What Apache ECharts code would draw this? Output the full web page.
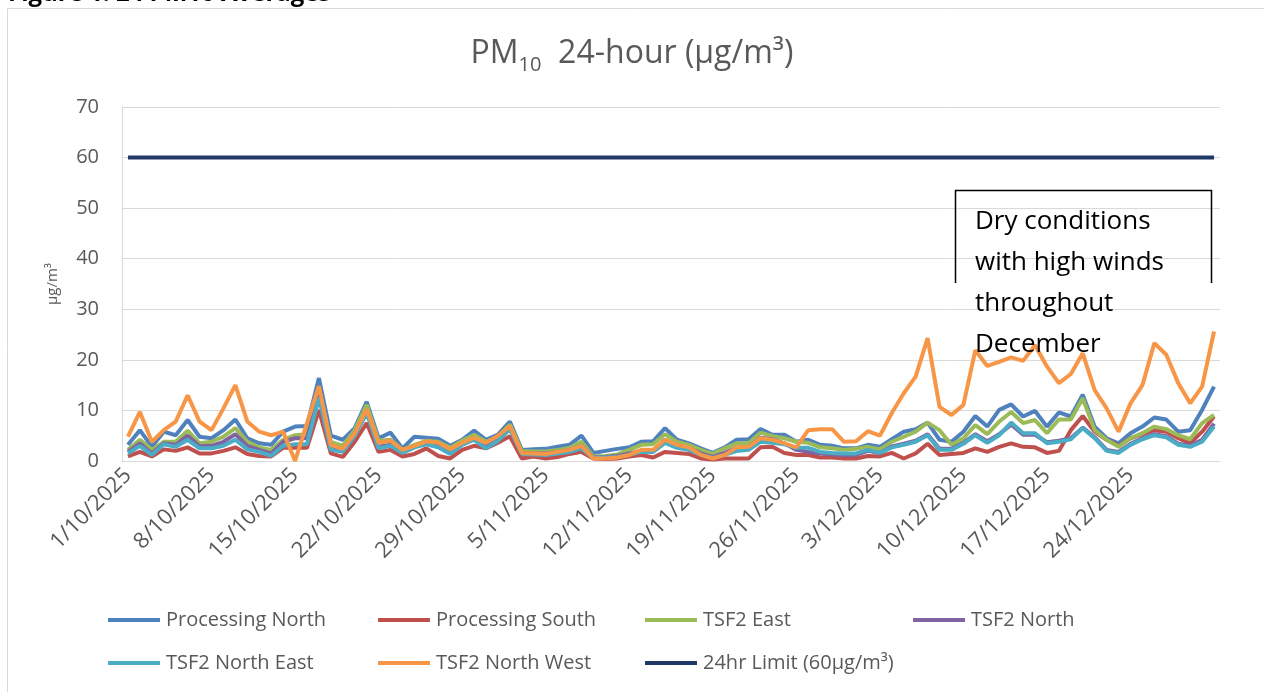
<!DOCTYPE html>
<html>
<head>
<meta charset="utf-8">
<title>PM10 24-hour</title>
<script src="https://cdn.jsdelivr.net/npm/echarts@6/dist/echarts.min.js"></script>
<style>
  html, body { margin: 0; padding: 0; background: #fff; }
  #main { width: 1264px; height: 692px; }
</style>
</head>
<body>
<div id="main"></div>
<script>
// daily dates 1/10/2025 .. 31/12/2025
var monthDays = [[10, 31], [11, 30], [12, 31]];
var dates = [];
monthDays.forEach(function (m) {
    for (var d = 1; d <= m[1]; d++) dates.push(d + '/' + m[0] + '/2025');
});

var processingNorth = [
    3.2, 6.1, 2.8, 5.8, 5.1, 8.1, 4.8, 4.5, 6.1, 8.2, 4.5, 3.5, 3.2, 5.8, 6.8, 6.9,
    16.4, 5.0, 4.2, 6.5, 11.7, 4.5, 5.6, 2.5, 4.8, 4.6, 4.4, 3.0, 4.2, 6.0, 4.2, 5.2,
    7.8, 2.2, 2.3, 2.4, 2.8, 3.2, 5.0, 1.6, 2.0, 2.4, 2.7, 3.8, 3.9, 6.5, 4.2, 3.5,
    2.5, 1.6, 2.7, 4.2, 4.3, 6.3, 5.2, 5.2, 3.8, 4.2, 3.2, 3.0, 2.5, 2.5, 3.2, 2.8,
    4.3, 5.8, 6.3, 7.6, 4.2, 3.8, 5.8, 8.9, 6.8, 10.1, 11.2, 8.8, 9.9, 6.8, 9.6, 8.8,
    13.1, 6.8, 4.5, 3.5, 5.5, 6.8, 8.6, 8.2, 5.8, 6.1, 10.1, 14.7
];
var processingSouth = [
    0.9, 1.8, 0.9, 2.3, 2.0, 2.7, 1.5, 1.5, 2.0, 2.7, 1.4, 1.0, 0.9, 2.6, 2.6, 2.6,
    10.1, 1.5, 0.8, 3.8, 7.5, 1.8, 2.2, 0.9, 1.4, 2.5, 1.0, 0.5, 2.2, 3.0, 2.5, 3.6,
    4.9, 0.5, 0.9, 0.5, 0.8, 1.4, 1.8, 0.5, 0.4, 0.5, 0.9, 1.2, 0.7, 1.8, 1.6, 1.4,
    0.5, 0.3, 0.5, 0.5, 0.5, 2.7, 2.8, 1.6, 1.2, 1.2, 0.7, 0.7, 0.5, 0.5, 1.0, 0.9,
    1.6, 0.5, 1.5, 3.4, 1.2, 1.4, 1.6, 2.5, 1.8, 2.8, 3.5, 2.8, 2.7, 1.6, 2.0, 6.1,
    8.9, 5.8, 4.2, 3.0, 4.5, 5.3, 6.1, 5.8, 4.5, 3.5, 5.8, 8.8
];
var tsf2East = [
    2.2, 4.2, 2.2, 3.8, 3.8, 6.0, 3.5, 3.8, 4.8, 6.5, 3.8, 2.7, 2.2, 4.2, 5.1, 5.3,
    14.4, 3.8, 3.0, 6.1, 11.1, 4.0, 4.2, 2.2, 3.2, 4.0, 3.8, 2.6, 4.0, 5.2, 3.8, 4.8,
    7.2, 2.0, 1.9, 1.9, 2.2, 2.6, 3.8, 0.9, 1.0, 1.3, 2.2, 3.2, 3.3, 5.3, 3.8, 3.2,
    2.2, 1.4, 2.5, 3.5, 3.5, 5.6, 4.9, 4.5, 3.8, 3.6, 2.7, 2.5, 2.2, 2.4, 2.8, 2.3,
    3.8, 4.8, 5.8, 7.6, 6.1, 3.2, 4.5, 7.1, 5.3, 7.8, 9.7, 7.5, 8.1, 5.5, 8.2, 8.2,
    12.4, 6.1, 4.2, 2.8, 4.5, 5.5, 6.8, 6.3, 5.1, 4.3, 7.5, 9.1
];
var tsf2North = [
    1.8, 3.5, 1.5, 3.5, 3.2, 5.0, 2.9, 3.0, 3.8, 5.3, 3.0, 2.2, 1.5, 3.8, 4.5, 4.5,
    13.0, 3.0, 2.3, 5.5, 10.0, 2.8, 3.2, 1.8, 2.8, 3.6, 3.2, 1.8, 3.4, 4.4, 3.0, 4.3,
    6.6, 1.6, 1.5, 1.5, 1.8, 2.2, 3.0, 0.7, 0.8, 1.0, 1.5, 2.0, 2.0, 4.2, 3.0, 2.5,
    1.5, 0.8, 1.6, 2.6, 2.8, 4.6, 4.3, 3.5, 2.2, 1.8, 1.5, 1.3, 1.2, 1.2, 2.0, 1.6,
    2.9, 3.4, 4.0, 5.3, 2.4, 2.4, 3.6, 5.3, 3.9, 5.3, 7.2, 5.2, 5.2, 3.7, 4.0, 4.5,
    6.6, 4.7, 2.2, 1.8, 3.4, 4.5, 5.3, 4.9, 3.4, 3.0, 4.2, 7.4
];
var tsf2NorthEast = [
    1.5, 3.0, 1.2, 3.3, 2.8, 4.2, 2.5, 2.5, 3.0, 4.2, 2.3, 1.8, 1.0, 3.0, 3.3, 3.3,
    12.5, 2.2, 1.8, 5.0, 9.5, 2.5, 3.0, 1.6, 2.7, 3.3, 2.7, 1.4, 3.2, 4.2, 2.5, 4.0,
    6.3, 1.4, 1.3, 1.2, 1.5, 1.8, 2.5, 0.6, 0.7, 0.8, 1.2, 1.8, 1.8, 3.6, 2.6, 2.2,
    1.2, 0.6, 1.2, 2.0, 2.2, 3.8, 3.6, 3.3, 2.6, 2.6, 1.8, 1.6, 1.5, 1.5, 2.2, 1.6,
    2.7, 3.2, 3.8, 5.1, 2.2, 2.2, 3.4, 5.1, 3.6, 5.1, 7.6, 5.5, 5.5, 3.5, 3.8, 4.3,
    6.5, 4.5, 2.0, 1.6, 3.2, 4.3, 5.1, 4.7, 3.2, 2.8, 3.8, 6.8
];
var tsf2NorthWest = [
    4.8, 9.7, 3.8, 6.1, 7.8, 13.0, 7.8, 6.1, 10.4, 15.0, 7.8, 5.8, 5.1, 5.8, 0.0, 7.5,
    14.8, 3.2, 2.4, 5.5, 10.2, 3.6, 4.0, 2.2, 3.0, 3.9, 3.6, 2.3, 3.6, 4.6, 3.6, 5.0,
    6.9, 1.6, 1.5, 1.4, 1.8, 2.2, 3.0, 0.5, 0.5, 0.7, 1.2, 2.2, 2.2, 4.2, 3.2, 2.7,
    1.2, 0.5, 1.2, 2.7, 2.8, 4.5, 4.2, 3.5, 2.7, 6.1, 6.3, 6.3, 3.8, 3.9, 5.9, 5.0,
    9.5, 13.4, 16.7, 24.3, 10.7, 9.1, 11.1, 21.9, 18.8, 19.6, 20.5, 19.8, 22.9, 18.7, 15.4, 17.2,
    21.3, 14.0, 10.4, 5.8, 11.4, 15.0, 23.3, 21.0, 15.4, 11.4, 14.7, 25.6
];
var limitValue = 60;
var limit24hr = dates.map(function () { return limitValue; });

var seriesNames = [
    'Processing North', 'Processing South', 'TSF2 East', 'TSF2 North',
    'TSF2 North East', 'TSF2 North West', '24hr Limit (60µg/m³)'
];
var seriesData = [
    processingNorth, processingSouth, tsf2East, tsf2North,
    tsf2NorthEast, tsf2NorthWest, limit24hr
];
var colors = ['#4f81bd', '#c0504d', '#9bbb59', '#8064a2', '#4bacc6', '#f79646', '#203864'];

var FONT = '"Open Sans", "Noto Sans", sans-serif';
var GREY = '#595959';

var chart = echarts.init(document.getElementById('main'));

// legend in a 4 column grid, like the original
var legendCols = [108, 378, 645, 913];
var legends = seriesNames.map(function (name, i) {
    return {
        data: [name],
        left: legendCols[i % 4] - 5,
        top: i < 4 ? 605 : 648,
        icon: 'rect',
        itemWidth: 52,
        itemHeight: 4,
        itemGap: 0,
        selectedMode: false,
        textStyle: {fontSize: 20, color: GREY, fontFamily: FONT, padding: [0, 0, 0, 1]}
    };
});

chart.setOption({
    animation: false,
    color: colors,
    title: {
        text: '{a|PM}{s|10}{a|  24-hour (µg/m³)}',
        left: 'center',
        top: 28,
        textStyle: {
            fontWeight: 'normal',
            rich: {
                a: {fontSize: 32, fontWeight: 'normal', color: GREY, fontFamily: FONT, lineHeight: 42},
                s: {fontSize: 20, fontWeight: 'normal', color: GREY, fontFamily: FONT, lineHeight: 22, verticalAlign: 'bottom'}
            }
        }
    },
    legend: legends,
    grid: {left: 122, right: 44, top: 107, bottom: 231, containLabel: false},
    xAxis: {
        type: 'category',
        data: dates,
        boundaryGap: true,
        axisLine: {lineStyle: {color: '#d9d9d9', width: 1}},
        axisTick: {show: false},
        axisLabel: {
            // weekly labels, the last day is not labelled in the original
            interval: function (index) { return index % 7 === 0 && index < dates.length - 1; },
            rotate: 45,
            margin: 11,
            fontSize: 22,
            color: GREY,
            fontFamily: FONT
        }
    },
    yAxis: {
        type: 'value',
        min: 0,
        max: 70,
        interval: 10,
        name: 'µg/m³',
        nameLocation: 'middle',
        nameRotate: 90,
        nameGap: 62,
        nameTextStyle: {fontSize: 15, color: GREY, fontFamily: FONT},
        axisLine: {show: true, lineStyle: {color: '#d9d9d9'}},
        axisTick: {show: false},
        axisLabel: {fontSize: 20, color: GREY, fontFamily: FONT, margin: 23},
        splitLine: {lineStyle: {color: '#d9d9d9', width: 1}}
    },
    series: seriesNames.map(function (name, i) {
        return {
            name: name,
            type: 'line',
            data: seriesData[i],
            symbol: 'none',
            lineStyle: {width: 4, color: colors[i]},
            emphasis: {disabled: true}
        };
    }),
    graphic: [
        // outer chart border
        {
            type: 'rect', shape: {x: 7.5, y: 8.5, width: 1300, height: 700},
            style: {fill: 'none', stroke: '#d9d9d9', lineWidth: 1}, silent: true
        },
        // figure caption, cut off at the top edge
        {
            type: 'text', left: 8, top: -18,
            style: {text: 'Figure 1: 24 PM10 Averages', font: 'bold 24px ' + FONT, fill: '#000'}
        },
        // annotation box
        {
            type: 'polyline', z: 100,
            shape: {points: [[955.5, 283], [955.5, 190.5], [1211.5, 190.5], [1211.5, 283]]},
            style: {fill: 'none', stroke: '#000', lineWidth: 1.5}
        },
        {
            type: 'text', left: 975, top: 201, z: 101,
            style: {
                text: 'Dry conditions\nwith high winds\nthroughout\nDecember',
                font: '26px ' + FONT,
                lineHeight: 41,
                fill: '#000'
            }
        }
    ]
});
</script>
</body>
</html>
